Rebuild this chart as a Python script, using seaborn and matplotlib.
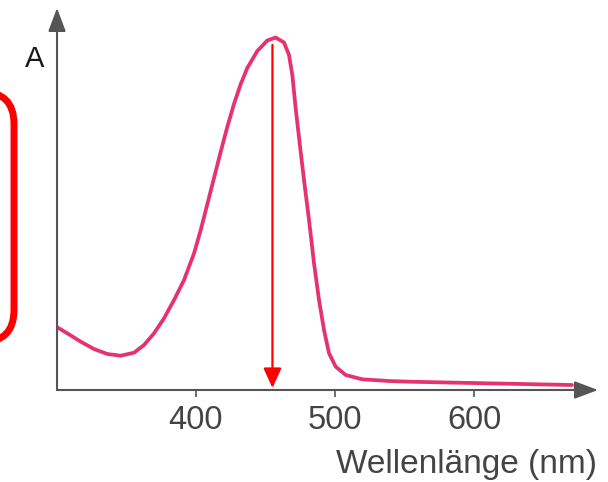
import matplotlib
matplotlib.use("Agg")
import matplotlib.pyplot as plt
import seaborn as sns
import pandas as pd
from matplotlib.patches import FancyBboxPatch
from matplotlib.transforms import IdentityTransform

# Data (wavelength in nm, absorbance in arbitrary units)
wavelength = [300.2, 307.4, 317.1, 326.6, 336.2, 345.8, 355.4, 362.6, 369.8, 377.0,
              384.2, 391.4, 398.6, 403.4, 412.9, 417.8, 422.5, 427.3, 432.2, 436.9,
              444.1, 451.3, 457.3, 463.3, 466.9, 469.3, 471.7, 475.3, 477.7, 481.3,
              484.9, 488.5, 492.1, 495.7, 500.5, 507.7, 519.6, 538.8, 553.2, 598.6,
              670.5]
absorbance = [62.7, 56.7, 48.3, 41.0, 36.0, 34.3, 37.3, 45.0, 56.7, 71.7,
              90.0, 110.0, 136.7, 160.0, 211.7, 238.3, 263.0, 286.0, 306.0, 322.0,
              339.0, 349.5, 352.5, 347.5, 335.0, 315.0, 281.7, 238.3, 210.0, 170.0,
              126.7, 90.0, 60.0, 36.7, 23.3, 15.0, 10.7, 9.0, 8.3, 7.0,
              5.0]
x_ticks = [400, 500, 600]
x_label = "Wellenlänge (nm)"
y_label = "A"
marker_nm = 455
marker_top = 345

W, H = 608, 482
fig = plt.figure(figsize=(W / 100, H / 100), dpi=100)
sns.set_style("white")
plt.rcParams['font.family'] = ['Liberation Sans', 'DejaVu Sans']

ax = fig.add_axes([57 / W, (H - 390) / H, (598 - 57) / W, (390 - 8) / H])
df = pd.DataFrame({"nm": wavelength, "A": absorbance})
sns.lineplot(data=df, x="nm", y="A", ax=ax, color="#E6336F", linewidth=2.7, sort=False)
for l in ax.lines:
    l.set_solid_joinstyle("round")
    l.set_solid_capstyle("round")

ax.set_xlim(300, 300 + 541 / 1.39)
ax.set_ylim(0, 382)
for s in ax.spines.values():
    s.set_visible(False)
ax.set_xlabel("")
ax.set_ylabel("")
ax.set_yticks([])
ax.set_xticks(x_ticks)
ax.set_xticklabels([str(t) for t in x_ticks], fontsize=23.5, color="#444444",
                   family=['Liberation Sans', 'DejaVu Sans'])
ax.tick_params(axis="x", length=5, width=1.2, color="#555555", pad=6, direction="out", bottom=True)

axis_col = "#555555"
ax.annotate("", xy=(1, 0), xytext=(0, 0), xycoords="axes fraction",
            arrowprops=dict(arrowstyle="-|>,head_length=1.2,head_width=0.45", color=axis_col,
                            lw=1.5, shrinkA=0, shrinkB=0, mutation_scale=12))
ax.annotate("", xy=(0, 1), xytext=(0, 0), xycoords="axes fraction",
            arrowprops=dict(arrowstyle="-|>,head_length=1.2,head_width=0.45", color=axis_col,
                            lw=1.5, shrinkA=0, shrinkB=0, mutation_scale=12))

# red marker arrow
ax.annotate("", xy=(marker_nm, 2), xytext=(marker_nm, marker_top), xycoords="data",
            arrowprops=dict(arrowstyle="-|>,head_length=1.1,head_width=0.5", color="#FF0000",
                            lw=1.6, shrinkA=0, shrinkB=0, mutation_scale=11))

fig.text(35 / W, 1 - 59 / H, y_label, fontsize=21, color="#1a1a1a", ha="center", va="center")
fig.text(597 / W, 1 - 465 / H, x_label, fontsize=24, color="#444444", ha="right", va="center")

rect = FancyBboxPatch((-60, 140), 74, 250, boxstyle="round,pad=0,rounding_size=32",
                      transform=IdentityTransform(), fill=False, edgecolor="#FF0000",
                      linewidth=5, figure=fig, clip_on=False)
fig.patches.append(rect)

fig.savefig("out.png", dpi=100)
